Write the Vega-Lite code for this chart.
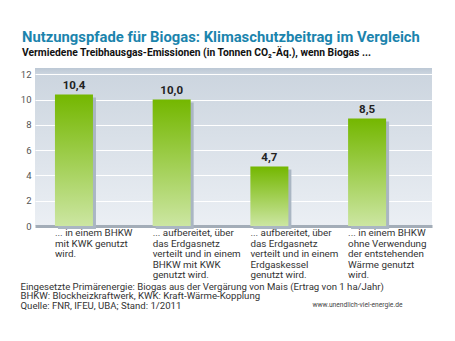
{
  "$schema": "https://vega.github.io/schema/vega-lite/v6.json",
  "width": 397,
  "height": 158,
  "autosize": {"type": "none"},
  "padding": {"left": 35, "top": 68, "right": 23, "bottom": 115},
  "background": "white",
  "config": {
    "locale": {"number": {"decimal": ",", "thousands": ".", "grouping": [3], "currency": ["", " €"]}},
    "font": "Roboto",
    "view": {
      "stroke": null,
      "fill": {"gradient": "linear", "x1": 0, "y1": 0, "x2": 0, "y2": 1,
        "stops": [{"offset": 0, "color": "#bcc8d5"}, {"offset": 0.04, "color": "#ccd5df"}, {"offset": 1, "color": "#ebeff4"}]}
    }
  },
  "title": {
    "text": "Nutzungspfade für Biogas: Klimaschutzbeitrag im Vergleich",
    "subtitle": "Vermiedene Treibhausgas-Emissionen (in Tonnen CO₂-Äq.), wenn Biogas ...",
    "anchor": "start",
    "frame": "group",
    "dx": -13,
    "offset": 10,
    "font": "Roboto",
    "fontSize": 14.8,
    "fontWeight": "bold",
    "color": "#1b84ad",
    "subtitleFont": "Roboto",
    "subtitleFontSize": 10.3,
    "subtitleFontWeight": "bold",
    "subtitleColor": "#111111",
    "subtitlePadding": 3
  },
  "data": {
    "values": [
      {"pfad": "BHKW mit KWK", "value": 10.4, "label": "... in einem BHKW\nmit KWK genutzt\nwird."},
      {"pfad": "Erdgasnetz, BHKW mit KWK", "value": 10.0, "label": "... aufbereitet, über\ndas Erdgasnetz\nverteilt und in einem\nBHKW mit KWK\ngenutzt wird."},
      {"pfad": "Erdgasnetz, Erdgaskessel", "value": 4.7, "label": "... aufbereitet, über\ndas Erdgasnetz\nverteilt und in einem\nErdgaskessel\ngenutzt wird."},
      {"pfad": "BHKW ohne Wärmenutzung", "value": 8.5, "label": "... in einem BHKW\nohne Verwendung\nder entstehenden\nWärme genutzt\nwird."}
    ]
  },
  "encoding": {
    "x": {
      "field": "pfad",
      "type": "nominal",
      "sort": null,
      "scale": {"type": "band", "paddingInner": 0.611, "paddingOuter": 0.337, "align": 0.303},
      "axis": {
        "title": [
          "Eingesetzte Primärenergie: Biogas aus der Vergärung von Mais (Ertrag von 1 ha/Jahr)",
          "BHKW: Blockheizkraftwerk, KWK: Kraft-Wärme-Kopplung",
          "Quelle: FNR, IFEU, UBA; Stand: 1/2011"
        ],
        "labels": false,
        "ticks": false,
        "domain": true,
        "domainColor": "#a3adb8",
        "domainWidth": 3,
        "titleAnchor": "start",
        "titleAlign": "left",
        "titleBaseline": "top",
        "titleX": -15,
        "titleY": 55,
        "titleFontWeight": "normal",
        "titleFontSize": 9.6,
        "titleLineHeight": 9.6,
        "titleColor": "#333333",
        "titleFont": "Roboto"
      }
    },
    "y": {
      "field": "value",
      "type": "quantitative",
      "scale": {"domain": [0, 12.5], "nice": false},
      "axis": {
        "values": [0, 2, 4, 6, 8, 10, 12],
        "labelOverlap": false,
        "grid": true,
        "gridColor": "#ffffff",
        "gridWidth": 1.2,
        "ticks": false,
        "domain": false,
        "labelColor": "#555555",
        "labelFontSize": 9.5,
        "labelPadding": 4,
        "labelFont": "Roboto",
        "title": "www.unendlich-viel-energie.de",
        "titleAngle": 0,
        "titleX": 277,
        "titleY": 236,
        "titleAlign": "left",
        "titleBaseline": "middle",
        "titleFontSize": 6.7,
        "titleFontWeight": "normal",
        "titleColor": "#444444",
        "titleFont": "Roboto"
      }
    }
  },
  "layer": [
    {
      "mark": {"type": "bar", "color": "#aab6c3", "xOffset": 3, "yOffset": 3}
    },
    {
      "mark": {
        "type": "bar",
        "color": {"gradient": "linear", "x1": 0, "y1": 0, "x2": 0, "y2": 1,
          "stops": [{"offset": 0, "color": "#74b700"}, {"offset": 1, "color": "#cce6a2"}]}
      }
    },
    {
      "mark": {"type": "text", "baseline": "bottom", "dy": -4, "fontSize": 11.5, "fontWeight": "bold", "color": "#222222", "font": "Roboto"},
      "encoding": {
        "text": {"field": "value", "type": "quantitative", "format": ".1f"}
      }
    },
    {
      "mark": {"type": "text", "align": "left", "baseline": "top", "dy": 2, "lineBreak": "\n", "lineHeight": 10.6, "fontSize": 9.8, "color": "#333333", "font": "Roboto"},
      "encoding": {
        "x": {"field": "pfad", "type": "nominal", "sort": null, "bandPosition": 0},
        "y": {"datum": 0},
        "text": {"field": "label"}
      }
    }
  ]
}
